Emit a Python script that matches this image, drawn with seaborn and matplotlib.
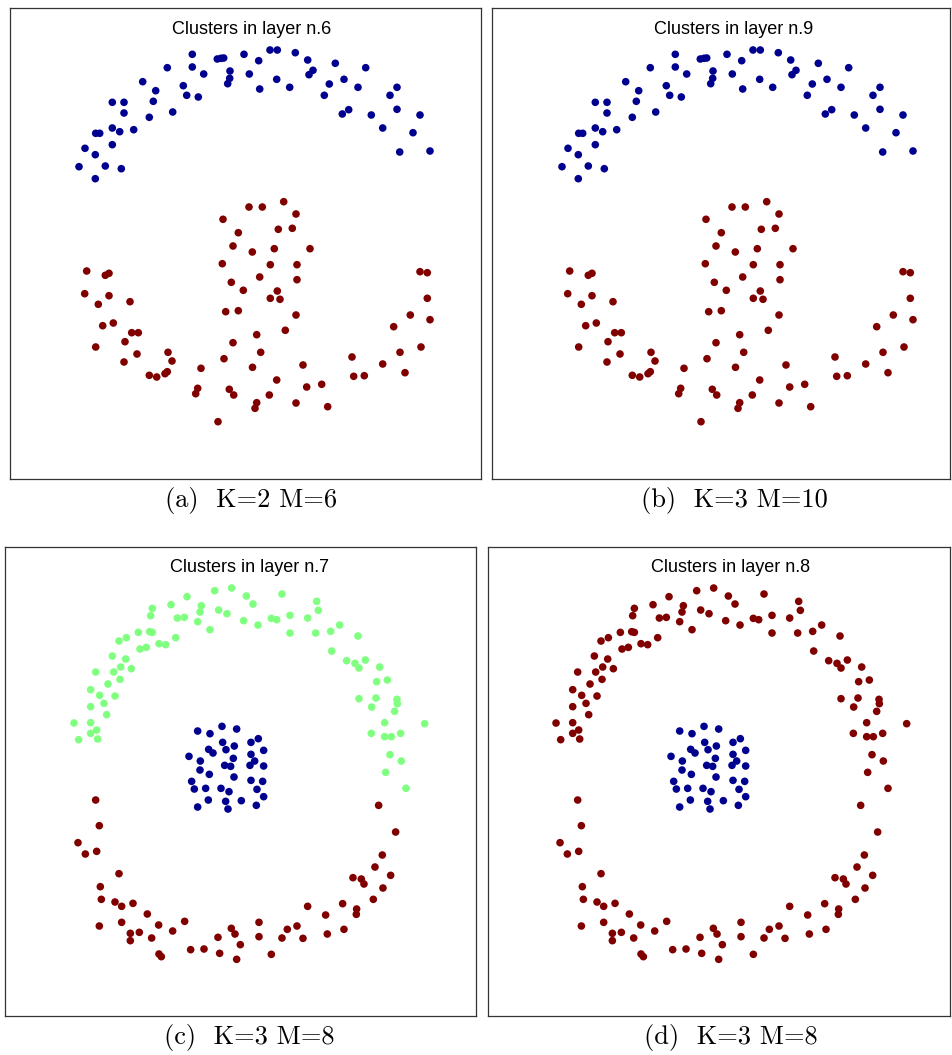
import matplotlib
matplotlib.use("Agg")
import matplotlib.pyplot as plt
import seaborn as sns
import pandas as pd

sns.set_theme(style="white")
plt.rcParams["font.family"] = ["Liberation Sans", "DejaVu Sans"]

# ---- two-moons data set (upper arc / lower arc with central stem) ----
moon_upper_x = [192.3, 167.3, 192.3, 203.7, 217.3, 221.0, 223.7, 230.0, 229.7, 227.7, 244.0, 249.3,
                258.7, 259.7, 270.0, 277.3, 295.3, 307.7, 313.0, 309.0, 276.7, 289.7, 335.3, 329.3,
                324.3, 344.0, 358.0, 365.7, 348.7, 342.3, 371.3, 397.0, 390.0, 397.0, 382.7, 420.0,
                413.0, 399.7, 430.0, 142.7, 155.7, 153.3, 149.3, 183.3, 186.7, 198.3, 172.7, 133.7,
                112.3, 124.0, 124.0, 112.3, 119.7, 95.7, 99.7, 85.0, 112.3, 95.3, 79.0, 105.3,
                121.3, 95.3]
moon_upper_y = [54.3, 67.7, 67.0, 74.0, 59.0, 58.3, 58.0, 71.0, 78.3, 83.7, 54.3, 74.0,
                60.7, 89.0, 50.0, 50.0, 52.7, 60.0, 70.3, 74.7, 79.3, 87.3, 63.3, 84.0,
                95.3, 79.3, 87.3, 67.7, 109.7, 114.0, 115.0, 87.3, 95.3, 109.3, 128.0, 115.0,
                132.7, 152.0, 151.0, 81.7, 90.7, 101.3, 117.3, 85.7, 95.3, 97.0, 112.0, 129.7,
                102.3, 102.3, 113.0, 128.0, 131.7, 133.3, 133.3, 148.3, 144.7, 154.7, 166.7, 166.0,
                168.7, 178.7]

moon_lower_x = [249.0, 223.0, 238.3, 233.0, 252.3, 222.3, 231.3, 243.3, 225.7, 238.3, 233.0, 224.0,
                252.5, 201.0, 229.3, 233.7, 197.7, 195.7, 218.0,
                86.7, 105.3, 109.0, 84.7, 109.0, 98.3, 130.0, 102.7, 113.3, 131.7, 138.3, 125.0,
                95.7, 137.0, 124.0, 168.0, 172.0, 149.3, 156.7, 165.0, 167.3,
                262.3, 283.7, 296.0, 278.3, 292.3, 274.3, 310.0, 270.3, 297.0, 259.7, 297.0, 277.3,
                270.3, 280.0, 296.0, 256.7, 285.3, 260.7, 303.0, 276.7, 306.7, 321.7, 269.3, 256.7,
                255.0, 296.0, 327.7,
                420.0, 427.3, 427.3, 410.3, 430.0, 393.7, 421.0, 400.0, 352.0, 382.7, 405.0, 353.7,
                364.3]
moon_lower_y = [207.0, 219.3, 232.7, 246.0, 252.0, 263.7, 282.3, 290.3, 311.7, 310.7, 342.7, 358.7,
                367.3, 368.3, 389.3, 395.0, 388.3, 393.7, 421.7,
                271.0, 275.3, 273.3, 293.7, 295.7, 304.3, 301.7, 325.7, 323.0, 332.7, 332.7, 341.7,
                347.0, 354.0, 362.0, 352.3, 361.0, 375.3, 377.0, 373.7, 371.7,
                207.0, 201.7, 214.0, 229.3, 228.3, 248.7, 248.7, 264.7, 264.7, 277.0, 279.7, 291.0,
                298.3, 299.3, 315.0, 334.7, 330.3, 352.3, 365.0, 380.0, 387.0, 384.3, 395.0, 402.7,
                408.3, 403.0, 406.7,
                271.7, 272.7, 298.3, 315.0, 319.7, 326.7, 347.0, 352.3, 357.0, 364.0, 372.7, 376.3,
                375.7]

# ---- ring-plus-core data set ----
ring_top_x = [650, 701, 745, 765, 852, 567, 519, 463, 610, 606, 662, 687, 458, 538, 559, 599, 636,
              737, 780, 820, 836, 876, 876, 956, 961, 929, 953, 998, 1025, 1080, 1001, 1046, 1071,
              1083, 1102, 1145, 1168, 1136, 1083, 1134, 1121, 1197, 1198, 1190, 1160, 1280, 1120,
              1160, 1180, 1208, 1176, 1210, 1163, 1224,
              421, 455, 463, 385, 363, 533, 483, 503, 445, 426, 343, 383, 368, 400, 293, 347, 366,
              330, 278, 305, 351, 278, 318, 326, 228, 278, 296, 278, 299, 242]
ring_top_y = [62, 54, 78, 102, 72, 80, 104, 115, 107, 126, 120, 131, 137, 144, 142, 155, 179,
              152, 165, 145, 149, 136, 189, 94, 121, 144, 189, 184, 165, 198, 243, 272, 280,
              294, 270, 291, 330, 335, 386, 384, 411, 388, 401, 424, 458, 461, 490,
              500, 500, 490, 554, 573, 607, 655,
              187, 185, 187, 203, 213, 203, 221, 224, 232, 237, 258, 267, 291, 296, 306, 306, 328,
              342, 359, 376, 378, 410, 400, 434, 459, 458, 480, 490, 507, 509]

ring_bottom_x = [293, 304, 240, 262, 296, 363, 307, 310, 351, 371, 405, 448, 304, 371, 397, 397,
                 424, 461, 482, 524, 560, 483, 490, 578, 618, 665, 660, 700, 711, 727, 716, 783,
                 783, 820, 852, 868, 897, 915, 929, 983, 988, 1038, 1034, 1076, 1075, 1065, 1090,
                 1098, 1126, 1155, 1131, 1178, 1153, 1193, 1142]
ring_bottom_y = [690, 767, 818, 852, 844, 911, 950, 988, 996, 1009, 1000, 1032, 1068, 1057, 1090, 1112,
                 1087, 1104, 1065, 1083, 1054, 1152, 1160, 1139, 1137, 1150, 1102, 1075, 1092, 1124, 1168, 1057,
                 1100, 1153, 1104, 1078, 1068, 1105, 1009, 1035, 1092, 1078, 1001, 1017, 1033, 923, 927,
                 942, 988, 954, 891, 916, 855, 786, 706]

core_x = [599, 636, 672, 716, 674, 709, 684, 632, 645, 573, 607, 706, 680, 698, 606, 634, 708,
          581, 589, 623, 669, 693, 631, 683, 730, 599, 690, 759, 781, 797, 759, 770, 756, 797,
          759, 794, 777, 797, 775]
core_y = [483, 491, 469, 477, 517, 528, 539, 538, 549, 559, 573, 565, 586, 589, 600, 613, 621,
          634, 657, 655, 655, 665, 690, 694, 692, 711, 717, 517, 506, 541, 553, 573, 586, 588,
          631, 634, 658, 680, 706]

# cluster colours (jet colormap levels)
DARK_BLUE = "#00008f"
DARK_RED = "#800000"
LIGHT_GREEN = "#80ff80"

moons = pd.DataFrame({
    "x": moon_upper_x + moon_lower_x,
    "y": moon_upper_y + moon_lower_y,
    "part": ["upper"] * len(moon_upper_x) + ["lower"] * len(moon_lower_x),
})
rings = pd.DataFrame({
    "x": ring_top_x + ring_bottom_x + core_x,
    "y": ring_top_y + ring_bottom_y + core_y,
    "part": ["top"] * len(ring_top_x) + ["bottom"] * len(ring_bottom_x) + ["core"] * len(core_x),
})

panels = [
    dict(df=moons, layer=6, caption="(a)  K=2 M=6",
         colors={"upper": DARK_BLUE, "lower": DARK_RED},
         box=(10, 8, 481.3, 479.3), xlim=(10, 481.3), ylim=(479.3, 8), tx=0.512),
    dict(df=moons, layer=9, caption="(b)  K=3 M=10",
         colors={"upper": DARK_BLUE, "lower": DARK_RED},
         box=(492.3, 8, 950, 479.3), xlim=(9.3, 467), ylim=(479.3, 8), tx=0.528),
    dict(df=rings, layer=7, caption="(c)  K=3 M=8",
         colors={"top": LIGHT_GREEN, "bottom": DARK_RED, "core": DARK_BLUE},
         box=(5, 546.7, 476.3, 1016), xlim=(21, 1435), ylim=(1338, -70), tx=0.518),
    dict(df=rings, layer=8, caption="(d)  K=3 M=8",
         colors={"top": DARK_RED, "bottom": DARK_RED, "core": DARK_BLUE},
         box=(487.7, 546.7, 950, 1016), xlim=(23, 1410), ylim=(1338, -70), tx=0.525),
]

W, H = 952, 1055
fig = plt.figure(figsize=(W / 100, H / 100), dpi=100)
fig.patch.set_facecolor("white")

for p in panels:
    l, t, r, b = p["box"]
    ax = fig.add_axes([l / W, 1 - b / H, (r - l) / W, (b - t) / H])
    sns.scatterplot(data=p["df"], x="x", y="y", hue="part", palette=p["colors"],
                    s=30, linewidth=0, legend=False, ax=ax)
    ax.set_xlim(*p["xlim"])
    ax.set_ylim(*p["ylim"])
    ax.set_xticks([])
    ax.set_yticks([])
    ax.set_xlabel("")
    ax.set_ylabel("")
    for sp in ax.spines.values():
        sp.set_visible(True)
        sp.set_color("#333333")
        sp.set_linewidth(0.9)
    ax.text(p["tx"], 0.955, f"Clusters in layer n.{p['layer']}", transform=ax.transAxes,
            ha="center", va="center", fontsize=13, color="black",
            family=["Liberation Sans", "DejaVu Sans"])
    ax.text(p["tx"], -0.046, p["caption"], transform=ax.transAxes,
            ha="center", va="center", fontsize=19, color="black",
            family=["cmr10", "DejaVu Serif"])

fig.savefig("out.png", dpi=100, facecolor="white")
